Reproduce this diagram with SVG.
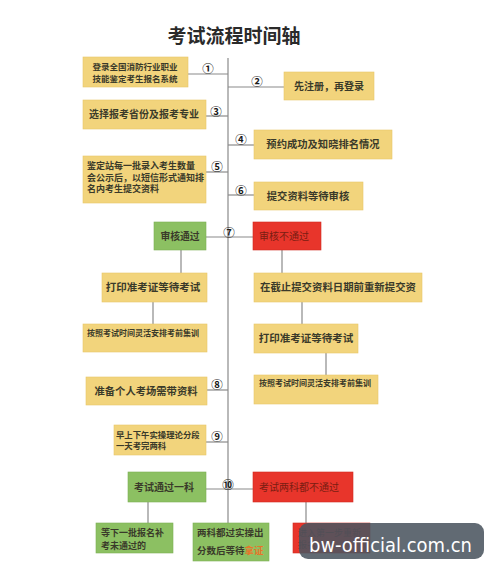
<svg xmlns="http://www.w3.org/2000/svg" width="500" height="575" viewBox="0 0 500 575">
<style>
text{font-family:"Noto Sans CJK SC","Noto Sans",sans-serif;font-weight:bold;fill:#3a3a2a}
.y{fill:#f2d47c;stroke:#e6c56a;stroke-width:0.6}
.g{fill:#8cc062;stroke:#7cae55;stroke-width:0.6}
.r{fill:#e8352b;stroke:#cf2a20;stroke-width:0.6}
.ln{stroke:#8a8a8a;stroke-width:1.2;fill:none}
.n{font-size:11.5px;font-family:"Noto Sans CJK SC",sans-serif;font-weight:bold;fill:#1a1a1a}
.rt{fill:#7a1d12;font-weight:normal}
</style>
<rect width="500" height="575" fill="#ffffff"/>
<text x="234" y="43" font-size="19" text-anchor="middle" style="fill:#2a2a2a">考试流程时间轴</text>

<g id="connectors">
<line class="ln" x1="228" y1="58" x2="228" y2="523"/>
<line class="ln" x1="188" y1="74" x2="228" y2="74"/>
<line class="ln" x1="228" y1="87" x2="284" y2="87"/>
<line class="ln" x1="206" y1="116" x2="228" y2="116"/>
<line class="ln" x1="228" y1="145" x2="254" y2="145"/>
<line class="ln" x1="206" y1="172" x2="228" y2="172"/>
<line class="ln" x1="228" y1="195" x2="254" y2="195"/>
<line class="ln" x1="206" y1="237" x2="253" y2="237"/>
<line class="ln" x1="181" y1="250" x2="181" y2="273"/>
<line class="ln" x1="282" y1="250" x2="282" y2="273"/>
<line class="ln" x1="153" y1="302" x2="153" y2="324"/>
<line class="ln" x1="302" y1="302" x2="302" y2="324"/>
<line class="ln" x1="326" y1="353" x2="326" y2="375"/>
<line class="ln" x1="207" y1="390" x2="228" y2="390"/>
<line class="ln" x1="206" y1="442" x2="228" y2="442"/>
<line class="ln" x1="206" y1="489" x2="253" y2="489"/>
<line class="ln" x1="148" y1="502" x2="148" y2="523"/>
<line class="ln" x1="306" y1="502" x2="306" y2="523"/>
<text class="n" x="208" y="73" text-anchor="middle">①</text>
<text class="n" x="257" y="86" text-anchor="middle">②</text>
<text class="n" x="216" y="116" text-anchor="middle">③</text>
<text class="n" x="241" y="144" text-anchor="middle">④</text>
<text class="n" x="217" y="171" text-anchor="middle">⑤</text>
<text class="n" x="241" y="195" text-anchor="middle">⑥</text>
<text class="n" x="229" y="237" text-anchor="middle">⑦</text>
<text class="n" x="217" y="389" text-anchor="middle">⑧</text>
<text class="n" x="217" y="441" text-anchor="middle">⑨</text>
<text class="n" x="228" y="489" text-anchor="middle">⑩</text>
</g>

<g id="n1"><rect class="y" x="83" y="57" width="105" height="30"/>
<text x="135" y="69.5" font-size="8.5" text-anchor="middle">登录全国消防行业职业</text>
<text x="135" y="81.5" font-size="8.5" text-anchor="middle">技能鉴定考生报名系统</text></g>
<g id="n2"><rect class="y" x="284" y="72" width="90" height="28"/>
<text x="329" y="90" font-size="10" text-anchor="middle">先注册，再登录</text></g>
<g id="n3"><rect class="y" x="83" y="100" width="123" height="29"/>
<text x="144" y="118" font-size="10" text-anchor="middle">选择报考省份及报考专业</text></g>
<g id="n4"><rect class="y" x="254" y="130" width="138" height="29"/>
<text x="323" y="148" font-size="10.3" text-anchor="middle">预约成功及知晓排名情况</text></g>
<g id="n5"><rect class="y" x="83" y="156" width="123" height="47"/>
<text x="87" y="169" font-size="9">鉴定站每一批录入考生数量</text>
<text x="87" y="180.5" font-size="9">会公示后，以短信形式通知排</text>
<text x="87" y="192" font-size="9">名内考生提交资料</text></g>
<g id="n6"><rect class="y" x="254" y="182" width="109" height="28"/>
<text x="308" y="200" font-size="10.3" text-anchor="middle">提交资料等待审核</text></g>
<g id="n7a"><rect class="g" x="154" y="222" width="52" height="28"/>
<text x="180" y="240" font-size="9.8" text-anchor="middle">审核通过</text></g>
<g id="n7b"><rect class="r" x="253" y="222" width="68" height="28"/>
<text class="rt" x="284" y="240" font-size="10" text-anchor="middle">审核不通过</text></g>
<g id="n8"><rect class="y" x="102" y="273" width="105" height="29"/>
<text x="153" y="291" font-size="10.5" text-anchor="middle">打印准考证等待考试</text></g>
<g id="n9"><rect class="y" x="254" y="273" width="168" height="29"/>
<text x="338" y="291" font-size="10.4" text-anchor="middle">在截止提交资料日期前重新提交资</text></g>
<g id="n10"><rect class="y" x="83" y="324" width="124" height="28"/>
<text x="87" y="336" font-size="8">按照考试时间灵活安排考前集训</text></g>
<g id="n11"><rect class="y" x="254" y="324" width="104" height="29"/>
<text x="306" y="342" font-size="10.5" text-anchor="middle">打印准考证等待考试</text></g>
<g id="n12"><rect class="y" x="254" y="375" width="124" height="29"/>
<text x="259" y="386" font-size="8">按照考试时间灵活安排考前集训</text></g>
<g id="n13"><rect class="y" x="86" y="377" width="121" height="28"/>
<text x="146" y="395" font-size="10.3" text-anchor="middle">准备个人考场需带资料</text></g>
<g id="n14"><rect class="y" x="114" y="425" width="92" height="30"/>
<text x="116" y="438" font-size="8.4">早上下午实操理论分段</text>
<text x="116" y="449" font-size="8.4">一天考完两科</text></g>
<g id="n15"><rect class="g" x="128" y="472" width="78" height="30"/>
<text x="164" y="491" font-size="10" text-anchor="middle">考试通过一科</text></g>
<g id="n16"><rect class="r" x="253" y="472" width="100" height="30"/>
<text class="rt" x="299" y="491" font-size="10" text-anchor="middle">考试两科都不通过</text></g>
<g id="n17"><rect class="g" x="96" y="523" width="77" height="30"/>
<text x="101" y="535.5" font-size="9">等下一批报名补</text>
<text x="101" y="548.5" font-size="9">考未通过的</text></g>
<g id="n18"><rect class="g" x="193" y="523" width="76" height="38"/>
<text x="197" y="536" font-size="9.5">两科都过实操出</text>
<text x="197" y="554" font-size="9.5">分数后等待<tspan style="fill:#e8742a">拿证</tspan></text></g>
<g id="n19"><rect class="r" x="293" y="523" width="77" height="30"/>
<text class="rt" x="298" y="536" font-size="9">进入第一步重新</text>
<text class="rt" x="298" y="548" font-size="9">报名</text></g>

<g id="watermark">
<rect x="299" y="523" width="185" height="36" rx="9" fill="#4b5560" fill-opacity="0.88"/>
<text x="309" y="552" font-size="19.5" style="font-family:'DejaVu Sans',sans-serif;font-weight:normal;fill:#ffffff" textLength="163" lengthAdjust="spacingAndGlyphs">bw-official.com.cn</text>
</g>
</svg>
